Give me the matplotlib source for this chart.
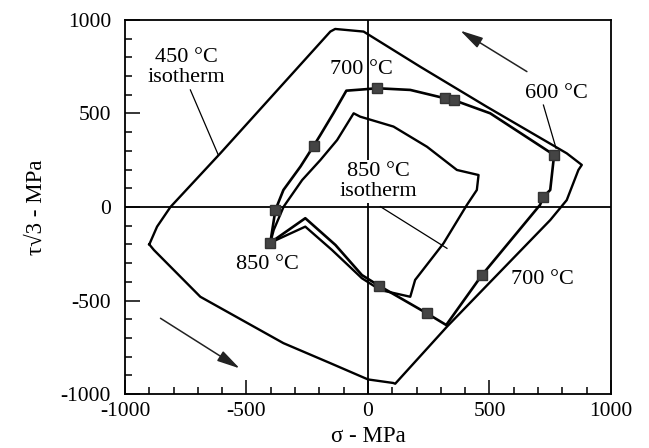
import matplotlib
matplotlib.use("Agg")
import matplotlib.pyplot as plt
from matplotlib.ticker import MultipleLocator

plt.rcParams['font.family'] = ['Liberation Serif', 'DejaVu Serif']

# 450 C isotherm (outer loop)
outer_sigma = [-900, -881, -690, -348, -155, 0, 104, 112, 325, 750, 818, 866, 880, 818, 489, 215, -18, -135, -155, -607, -813, -868, -900]
outer_tau = [-200, -230, -480, -728, -835, -922, -941, -945, -640, -70, 37, 198, 225, 287, 536, 750, 938, 952, 938, 288, 0, -105, -200]

# 700 C path (middle loop)
path_sigma = [-402, -381, -348, -278, -224, -196, -142, -89, -18, 37, 174, 318, 352, 503, 766, 750, 722, 708, 469, 322, 243, 44, -25, -134, -258, -402]
path_tau = [-191, -16, 91, 216, 326, 385, 502, 622, 629, 635, 626, 581, 572, 501, 278, 91, 55, 11, -364, -631, -569, -420, -364, -203, -60, -191]

# markers on the 700 C path
mark_sigma = [-402, -381, -224, 37, 318, 352, 766, 722, 469, 243, 44]
mark_tau = [-191, -16, 326, 635, 581, 572, 278, 55, -364, -569, -420]

# 850 C isotherm (inner loop)
inner_sigma = [-402, -388, -347, -271, -196, -127, -59, -32, 105, 243, 366, 455, 448, 407, 311, 194, 174, 51, -25, -148, -258, -402]
inner_tau = [-191, -123, 2, 144, 251, 358, 501, 483, 430, 322, 198, 171, 91, 11, -194, -390, -480, -444, -381, -230, -105, -191]

# labels: (text, sigma, tau)
label_texts = ["450 °C", "isotherm", "700 °C", "600 °C", "850 °C", "isotherm", "850 °C", "700 °C"]
label_sigma = [-749, -747, -25, 777, 43, 43, -415, 719]
label_tau = [802, 695, 733, 608, 189, 82, -310, -390]

# leader lines: start (sigma, tau) -> end (sigma, tau)
leader_s0 = [-731, 722, 51]
leader_t0 = [626, 545, 2]
leader_s1 = [-616, 774, 325]
leader_t1 = [278, 314, -221]

# direction arrows: tail -> head
arrow_s0 = [654, -854]
arrow_t0 = [724, -595]
arrow_s1 = [380, -528]
arrow_t1 = [943, -863]

xticks = [-1000, -500, 0, 500, 1000]
yticks = [-1000, -500, 0, 500, 1000]

fig = plt.figure(figsize=(6.49, 4.48), dpi=100)
ax = fig.add_axes([0.1926, 0.1205, 0.7488, 0.8349])
ax.set_xlim(-1000, 1000)
ax.set_ylim(-1000, 1000)

ax.axhline(0, color='black', lw=1.3, zorder=1)
ax.axvline(0, color='black', lw=1.3, zorder=1)

ax.plot(outer_sigma, outer_tau, color='black', lw=1.7, zorder=2)
ax.plot(inner_sigma, inner_tau, color='black', lw=1.7, zorder=2)
ax.plot(path_sigma, path_tau, color='black', lw=1.9, zorder=3)
ax.plot(mark_sigma, mark_tau, ls='none', marker='s', ms=7.5, color='#444444',
        markeredgecolor='#333333', zorder=4)

for s0, t0, s1, t1 in zip(leader_s0, leader_t0, leader_s1, leader_t1):
    ax.plot([s0, s1], [t0, t1], color='black', lw=0.9, zorder=3)

for s0, t0, s1, t1 in zip(arrow_s0, arrow_t0, arrow_s1, arrow_t1):
    ax.annotate('', xy=(s1, t1), xytext=(s0, t0),
                arrowprops=dict(arrowstyle='-|>,head_length=1.4,head_width=0.35',
                                mutation_scale=10, color='#222222', lw=1.1,
                                shrinkA=0, shrinkB=0), zorder=3)

for i, (txt, s, t) in enumerate(zip(label_texts, label_sigma, label_tau)):
    bbox = None
    if i in (4, 5):
        bbox = dict(facecolor='white', edgecolor='none', pad=1.5)
    ax.text(s, t, txt, ha='center', va='center', fontsize=16, zorder=5, bbox=bbox)

ax.set_xticks(xticks)
ax.set_yticks(yticks)
ax.set_xticklabels([str(v) for v in xticks])
ax.set_yticklabels([str(v) for v in yticks])
ax.xaxis.set_minor_locator(MultipleLocator(100))
ax.yaxis.set_minor_locator(MultipleLocator(100))
ax.tick_params(which='both', direction='in', top=False, right=False, width=1.1,
               labelsize=15.5)
ax.tick_params(axis='y', which='major', length=11, pad=10)
ax.tick_params(axis='x', which='major', length=10, pad=6)
ax.tick_params(which='minor', length=5)
for sp in ax.spines.values():
    sp.set_linewidth(1.3)

ax.set_xlabel('σ - MPa', fontsize=16.5, labelpad=3)
ax.set_ylabel('τ√3 - MPa', fontsize=16.5, labelpad=10)

fig.savefig('out.png', dpi=100)
